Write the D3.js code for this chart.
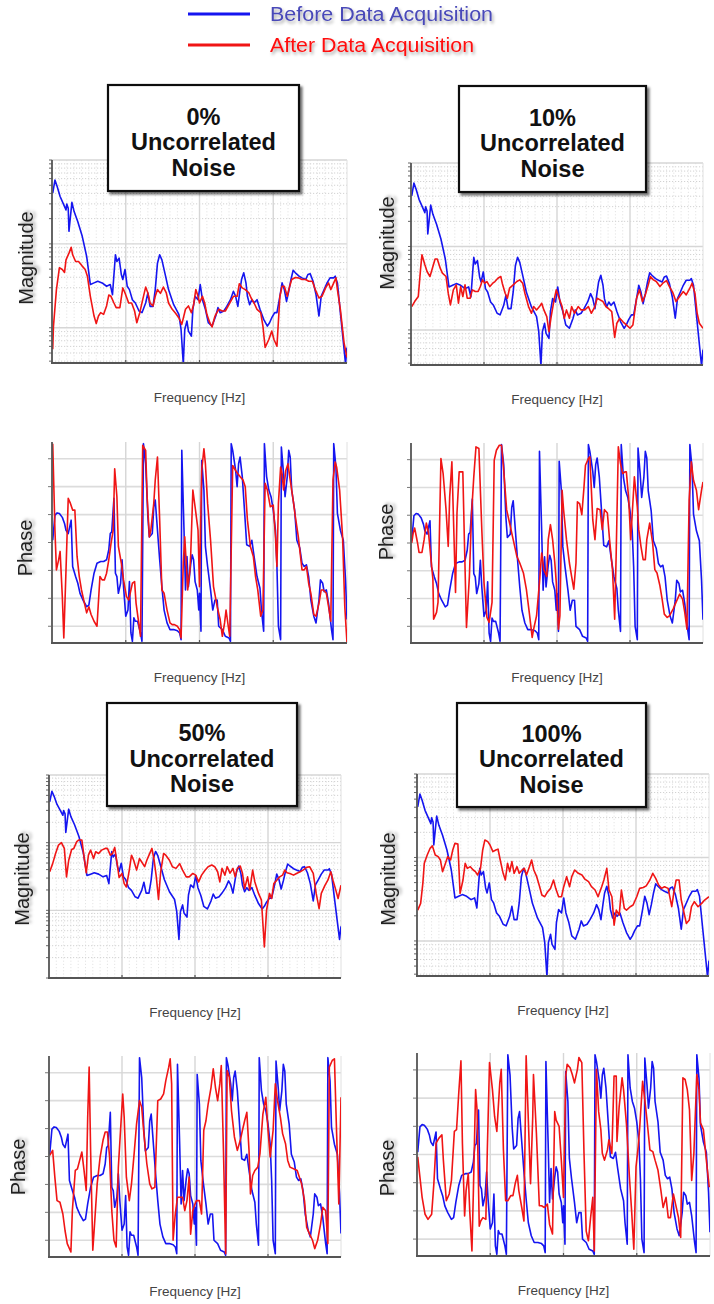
<!DOCTYPE html>
<html><head><meta charset="utf-8">
<script src="https://cdn.jsdelivr.net/npm/d3@7"></script>
<style>body{margin:0;background:#fff}svg{display:block}</style>
</head><body>
<svg id="c" width="714" height="1304"></svg>
<script>
// ---------- DATA ----------
const noiseLevels = ["0%", "10%", "50%", "100%"];
const seriesNames = ["Before Data Acquisition", "After Data Acquisition"];
const freqGrid = [100, 200, 300];            // Hz, major vertical grid
const phaseGrid = [-150, -100, -50, 0, 50, 100, 150]; // degrees

// Magnitude in dB, [frequency Hz, dB]
const beforeMag = [[1,32.1],[4,35.2],[7,33.7],[11,31.3],[16,29.3],[19,28.1],[20,29.5],[22,28.5],[23,23.0],[25,26.5],[27,29.9],[30,27.7],[35,25.3],[41,21.8],[47,17.0],[52,10.3],[57,10.7],[62,11.1],[68,10.7],[74,9.9],[79,10.3],[82,7.9],[86,17.4],[88,15.8],[91,16.6],[94,12.7],[96,11.5],[99,13.9],[102,9.9],[105,9.1],[109,6.7],[113,5.9],[118,4.0],[122,3.6],[127,5.9],[130,8.3],[133,5.1],[137,5.1],[140,9.1],[143,15.4],[146,17.4],[149,16.2],[154,12.3],[158,9.1],[165,5.5],[172,3.2],[175,-0.4],[178,-8.6],[180,-0.4],[183,1.6],[185,-0.8],[189,-2.0],[191,4.4],[194,7.5],[198,6.7],[201,10.3],[204,6.7],[208,4.4],[212,1.2],[217,0.4],[222,2.8],[225,4.8],[228,3.6],[233,4.0],[237,5.1],[242,6.7],[246,8.7],[249,7.5],[252,5.1],[255,9.1],[257,11.5],[260,13.1],[263,10.7],[265,7.5],[268,5.5],[271,6.7],[274,5.9],[278,6.7],[282,4.4],[287,2.0],[292,0.4],[295,1.2],[298,2.4],[302,3.6],[305,3.6],[309,7.5],[312,10.7],[315,9.1],[318,6.3],[321,8.7],[324,11.5],[327,13.7],[330,13.1],[335,12.3],[339,11.9],[344,11.5],[347,12.7],[350,12.9],[354,11.1],[358,7.9],[362,2.8],[365,7.5],[369,9.1],[373,10.7],[377,11.9],[382,11.9],[384,12.3],[387,10.7],[391,3.6],[396,-5.1],[398,-8.6],[400,-4.7]];

const afterMag0 = [[1,-5.1],[2,0.4],[6,9.1],[10,14.3],[14,13.9],[17,13.2],[19,16.2],[23,17.8],[26,19.2],[28,17.4],[32,15.8],[36,15.8],[41,14.7],[45,13.9],[48,12.3],[52,7.5],[57,2.8],[60,1.0],[63,2.8],[66,3.6],[70,3.2],[74,5.2],[77,7.8],[80,7.5],[84,5.9],[87,4.8],[92,4.8],[96,9.5],[99,8.3],[104,5.9],[108,5.9],[112,4.0],[115,1.2],[119,3.6],[123,6.7],[127,9.7],[130,8.3],[133,5.9],[137,5.2],[140,7.5],[143,9.1],[147,8.2],[151,9.7],[155,8.3],[158,5.9],[163,4.4],[167,3.6],[172,2.4],[176,0.8],[181,4.4],[185,5.2],[189,3.6],[192,5.5],[195,9.1],[198,7.5],[200,5.9],[204,7.5],[207,5.9],[210,3.2],[214,1.2],[217,0.2],[221,2.8],[226,4.4],[231,4.0],[235,4.0],[241,5.9],[246,7.5],[251,7.5],[254,10.5],[258,9.5],[262,9.1],[267,8.3],[270,7.1],[274,5.9],[278,4.4],[283,3.6],[286,0.4],[289,-4.7],[294,-2.8],[298,-0.8],[301,-2.8],[305,-4.4],[309,7.5],[312,9.9],[315,9.9],[319,7.5],[321,9.1],[325,11.5],[330,12.0],[334,11.9],[339,11.5],[344,11.5],[348,11.1],[353,11.1],[357,9.1],[362,7.1],[366,7.5],[371,9.5],[375,10.7],[378,9.1],[382,10.7],[385,11.9],[387,9.1],[391,4.4],[396,-3.6],[400,-7.1]];

const afterMag10 = [[1,5.6],[5,6.8],[10,8.0],[13,14.4],[15,18.0],[19,15.6],[22,14.0],[26,12.8],[30,15.2],[33,17.0],[36,17.0],[40,14.8],[43,13.6],[48,12.8],[51,8.8],[54,6.0],[58,9.6],[62,10.8],[65,6.4],[68,10.4],[71,8.0],[74,10.8],[77,7.6],[81,7.6],[84,9.6],[88,9.2],[92,9.2],[95,10.4],[98,12.0],[101,11.2],[104,11.6],[108,10.4],[112,11.2],[115,11.6],[119,12.4],[123,12.8],[125,11.2],[129,8.8],[132,7.6],[135,10.0],[140,10.8],[145,11.6],[149,12.0],[153,11.2],[156,8.8],[161,5.6],[165,4.0],[168,5.6],[172,4.8],[176,5.6],[179,6.4],[182,4.8],[186,3.2],[189,-0.4],[192,3.2],[196,7.2],[199,9.6],[203,7.6],[207,5.6],[210,2.8],[213,4.8],[217,2.8],[220,5.6],[224,4.0],[229,5.6],[233,4.8],[238,4.8],[243,5.6],[247,4.0],[252,5.6],[255,7.6],[259,7.2],[263,6.8],[267,5.6],[270,5.2],[275,4.4],[279,-1.8],[282,1.6],[286,2.8],[290,2.0],[295,1.2],[300,0.4],[304,1.2],[309,7.6],[313,9.6],[317,6.8],[321,8.4],[325,10.8],[328,12.8],[332,12.0],[336,11.6],[341,10.4],[345,11.2],[350,11.8],[354,10.4],[359,8.8],[363,6.8],[368,8.0],[373,9.2],[377,8.4],[382,10.0],[385,11.2],[389,8.8],[392,4.0],[395,1.6],[400,0.4]];

const afterMag50 = [[1,11.4],[5,13.8],[9,16.8],[13,19.3],[17,20.0],[21,18.3],[24,9.9],[27,14.8],[31,18.0],[34,18.3],[38,20.3],[41,20.8],[45,20.8],[48,15.8],[51,11.1],[54,16.3],[57,17.8],[61,15.3],[64,17.3],[68,16.8],[72,17.8],[77,18.3],[80,18.3],[84,16.3],[87,16.8],[90,18.6],[94,12.9],[96,9.7],[100,10.9],[103,7.9],[106,6.9],[110,11.9],[113,16.3],[116,14.8],[120,11.9],[124,15.3],[127,14.3],[131,12.9],[134,14.8],[137,16.3],[141,18.3],[144,14.8],[147,9.9],[150,3.2],[153,11.4],[157,16.8],[160,16.3],[165,14.8],[169,12.9],[174,12.4],[179,13.8],[183,11.9],[188,9.9],[192,9.9],[197,10.9],[201,10.4],[205,8.4],[209,10.4],[214,11.9],[218,12.9],[223,13.4],[227,12.9],[231,11.4],[234,8.4],[237,12.4],[241,10.4],[244,12.9],[248,11.0],[252,12.4],[255,9.9],[258,12.4],[262,13.1],[265,11.0],[268,6.4],[272,9.9],[275,6.0],[279,11.9],[282,8.4],[287,5.0],[291,3.0],[295,-10.8],[298,0.0],[302,5.0],[305,3.5],[308,7.9],[312,8.9],[316,9.9],[320,10.4],[323,11.9],[326,11.1],[330,10.9],[335,10.4],[339,10.9],[344,11.4],[348,11.9],[353,12.7],[357,12.9],[362,10.9],[366,5.0],[370,0.5],[373,5.0],[378,7.4],[382,8.9],[386,11.4],[389,8.9],[393,5.9],[396,3.5],[400,7.4]];

const afterMag100 = [[1,7.4],[5,9.0],[8,13.8],[10,18.6],[14,20.6],[18,22.2],[21,22.8],[25,20.6],[29,20.2],[32,19.4],[35,16.6],[39,18.6],[42,20.2],[46,19.4],[49,21.8],[52,23.4],[56,23.2],[59,11.4],[63,14.6],[66,18.6],[69,17.4],[73,17.8],[77,17.0],[80,16.6],[83,15.8],[87,17.4],[90,21.8],[93,24.2],[97,23.8],[100,23.0],[104,21.4],[108,21.8],[111,22.0],[114,19.4],[118,16.2],[121,14.6],[124,18.6],[127,16.6],[130,19.0],[133,16.2],[137,17.8],[140,16.2],[144,17.0],[147,17.4],[150,15.8],[154,17.8],[157,19.4],[160,17.0],[164,15.4],[168,13.0],[171,11.0],[175,10.6],[179,11.8],[183,12.6],[187,14.6],[190,12.6],[194,10.6],[198,10.6],[201,13.0],[205,15.4],[209,13.0],[212,15.4],[216,17.0],[221,16.2],[226,15.8],[230,14.8],[235,14.2],[239,13.0],[244,12.2],[248,10.6],[253,13.0],[256,14.6],[260,17.4],[263,12.2],[267,10.6],[270,3.8],[273,7.4],[277,6.2],[280,12.2],[284,7.8],[287,7.4],[292,8.2],[296,8.6],[301,10.6],[305,12.6],[310,12.8],[314,13.2],[319,14.6],[323,16.2],[327,15.0],[331,13.4],[335,12.6],[339,13.0],[344,12.6],[349,8.2],[352,11.8],[355,14.6],[359,14.6],[362,9.8],[365,7.4],[369,4.2],[373,5.0],[376,8.2],[380,9.4],[385,8.2],[390,9.0],[394,9.8],[400,10.6]];

// Phase in degrees, [frequency Hz, deg]
const beforePhase = [[1,4],[4,49],[7,53],[10,52],[14,45],[17,34],[19,22],[22,16],[24,28],[26,40],[28,-43],[32,-61],[35,-73],[38,-91],[42,-103],[47,-115],[50,-112],[53,-85],[57,-55],[61,-37],[66,-34],[70,-34],[74,-31],[77,-13],[79,16],[81,19],[84,79],[86,-55],[88,-61],[90,-91],[93,-73],[95,-31],[97,-79],[100,-132],[103,-121],[105,-70],[107,-162],[109,-177],[111,-135],[113,-141],[116,-141],[120,-162],[122,-177],[124,177],[127,141],[130,46],[132,10],[136,16],[138,64],[140,76],[142,40],[146,-31],[149,-79],[152,-121],[156,-144],[160,-156],[165,-156],[170,-158],[173,-162],[175,-174],[176,165],[179,22],[181,-85],[183,-25],[185,-79],[188,-40],[190,-22],[192,-31],[194,-70],[197,-85],[199,-121],[200,-91],[202,-159],[203,147],[206,94],[208,-7],[211,-43],[215,-85],[218,-121],[221,-103],[224,-103],[226,-150],[231,-156],[235,-168],[240,-171],[242,-177],[243,177],[245,165],[249,129],[251,100],[253,141],[255,153],[258,118],[261,58],[264,-4],[268,-7],[271,4],[274,-25],[278,-61],[282,-82],[284,-121],[287,-159],[288,177],[291,118],[294,94],[297,82],[300,58],[303,22],[305,-43],[307,-150],[310,-174],[311,171],[314,123],[316,82],[319,118],[321,165],[323,153],[325,94],[329,58],[332,4],[336,-10],[339,-37],[342,-43],[345,-40],[348,-61],[351,-103],[355,-132],[358,-144],[362,-103],[364,-67],[367,-73],[369,-88],[372,-85],[375,-109],[379,-156],[381,-174],[382,177],[385,135],[387,52],[391,22],[395,4],[398,-67],[400,-138]];

const afterPhase0 = [[1,177],[4,22],[6,-49],[9,-31],[11,-16],[14,-97],[16,-171],[19,-49],[22,79],[25,70],[28,58],[31,58],[34,-25],[37,-61],[40,-85],[44,-109],[47,-126],[50,-115],[53,-129],[57,-141],[61,-150],[65,-61],[68,-67],[71,-67],[74,-55],[77,-31],[80,-2],[83,22],[85,132],[88,82],[90,-7],[94,-37],[97,-67],[101,-97],[104,-103],[106,-91],[109,-73],[112,-70],[114,-109],[117,-138],[120,-168],[123,174],[127,165],[129,82],[132,10],[134,22],[138,70],[140,112],[143,153],[146,40],[149,-85],[152,-91],[156,-121],[160,-144],[163,-147],[166,-147],[170,-150],[173,-156],[175,-171],[178,-37],[180,10],[182,-37],[184,-85],[187,-49],[188,-25],[191,94],[194,64],[198,22],[200,-79],[203,129],[206,168],[208,141],[211,70],[215,4],[219,-79],[224,-115],[228,-138],[231,-168],[234,-144],[236,-121],[239,-150],[241,-168],[245,138],[249,129],[252,123],[255,118],[259,112],[262,100],[265,40],[269,-7],[273,-25],[276,-61],[279,-85],[283,-132],[286,-121],[289,106],[292,94],[296,64],[300,67],[303,10],[305,-43],[307,70],[310,135],[312,123],[314,94],[317,129],[320,141],[323,112],[327,76],[330,46],[334,10],[339,-49],[342,-49],[345,-43],[348,-73],[351,-91],[355,-129],[358,-132],[362,-109],[365,-85],[368,-85],[372,-91],[375,-115],[378,-141],[381,112],[384,144],[386,135],[390,94],[394,10],[397,-115],[400,-180]];

const afterPhase10 = [[1,0],[3,18],[5,27],[9,0],[11,-17],[15,-17],[18,6],[21,36],[24,18],[27,-24],[30,-65],[31,-137],[35,-125],[37,-107],[41,152],[44,125],[48,60],[51,-6],[53,83],[56,146],[59,6],[61,-89],[63,54],[66,128],[71,128],[73,12],[76,-152],[80,-60],[83,54],[86,119],[89,173],[93,170],[97,24],[100,-71],[104,-134],[107,-143],[111,-107],[114,149],[117,167],[121,176],[124,176],[127,131],[131,60],[135,36],[140,6],[145,-24],[149,-36],[154,-54],[158,-83],[162,-125],[166,-170],[168,-155],[172,-131],[176,-71],[179,-18],[182,-48],[186,-60],[188,6],[191,33],[194,6],[197,-36],[199,-71],[202,-155],[204,-131],[207,95],[209,60],[213,6],[217,-36],[220,-60],[223,-83],[226,-36],[228,74],[231,71],[234,51],[237,101],[239,140],[243,152],[245,155],[249,42],[252,6],[255,62],[259,60],[262,24],[265,60],[269,54],[272,6],[276,-48],[279,-137],[281,-24],[284,173],[287,143],[290,125],[293,128],[295,128],[298,83],[301,6],[303,51],[306,119],[310,65],[312,24],[315,-6],[318,-30],[321,-30],[323,6],[327,36],[331,0],[334,-48],[337,-54],[341,-77],[344,-101],[347,-128],[351,-134],[354,-131],[359,-119],[363,-107],[368,-92],[372,-101],[375,-125],[378,-155],[381,77],[384,146],[387,113],[391,95],[394,60],[398,95],[400,110]];

const afterPhase50 = [[1,2],[5,11],[8,-37],[11,-79],[15,-82],[19,-103],[22,-133],[25,-156],[30,-171],[32,-97],[36,-25],[39,-22],[42,-7],[45,8],[48,-25],[51,-61],[53,70],[55,160],[57,11],[60,-168],[63,-109],[66,-49],[70,-1],[74,29],[77,44],[80,44],[83,-1],[86,-97],[89,-150],[92,-162],[95,-19],[98,47],[101,112],[103,70],[106,-37],[110,-79],[113,-49],[117,11],[120,59],[124,100],[127,88],[130,41],[134,-13],[138,-49],[141,-58],[145,-55],[149,100],[153,103],[157,112],[160,136],[164,160],[166,175],[168,130],[170,-150],[173,-103],[176,-73],[180,-73],[183,-73],[186,-97],[189,-79],[192,-37],[194,-139],[197,-97],[200,-85],[202,-79],[206,-79],[209,-103],[212,47],[215,64],[218,94],[222,124],[225,157],[228,124],[231,100],[234,130],[236,163],[239,11],[242,-174],[244,154],[247,142],[250,82],[254,35],[258,11],[262,29],[265,47],[268,64],[271,79],[274,11],[276,-67],[279,-34],[282,-25],[286,-19],[289,5],[293,76],[297,106],[300,47],[303,-1],[307,47],[310,130],[313,100],[317,70],[320,41],[324,23],[327,-7],[330,-19],[335,-22],[340,-25],[343,-37],[346,-49],[350,-79],[353,-127],[357,-139],[361,-150],[364,-165],[368,-150],[372,-121],[375,-91],[379,-97],[382,-156],[384,160],[388,172],[391,175],[394,41],[397,-85],[400,106]];

const afterPhase100 = [[1,-4],[4,-40],[7,-76],[11,-106],[15,-115],[20,-106],[23,-52],[26,20],[30,29],[34,35],[36,-10],[40,-82],[44,-70],[47,-46],[51,41],[54,44],[57,109],[60,166],[62,20],[65,-109],[67,-64],[70,-34],[72,-100],[75,-171],[77,-64],[80,115],[82,79],[85,-127],[87,-118],[90,-112],[94,-115],[96,8],[99,163],[103,115],[106,67],[109,41],[113,127],[115,151],[118,8],[121,-82],[124,-82],[128,-73],[131,-73],[134,-52],[137,-37],[139,-64],[143,-94],[146,-118],[149,175],[152,61],[155,-52],[158,67],[159,142],[163,38],[167,-91],[170,-91],[174,-94],[178,-88],[181,-124],[185,-141],[188,76],[190,61],[194,50],[197,-10],[200,-76],[203,139],[205,160],[209,154],[212,142],[215,127],[219,151],[221,172],[225,163],[228,2],[231,-136],[234,-153],[237,-112],[240,-76],[242,-171],[245,151],[248,76],[251,44],[253,2],[256,-10],[260,8],[262,26],[266,2],[269,139],[272,139],[273,23],[276,85],[280,136],[282,115],[286,53],[290,-40],[293,-100],[296,-168],[299,-22],[302,14],[304,47],[308,130],[311,97],[314,61],[318,8],[322,5],[325,-10],[329,-28],[333,-64],[336,-94],[340,-76],[343,-112],[346,-112],[350,-70],[353,-88],[357,-112],[360,-147],[363,136],[366,133],[369,115],[372,79],[375,-46],[378,2],[382,142],[385,115],[387,56],[391,44],[395,-10],[399,-58]];

const afterMags = [afterMag0, afterMag10, afterMag50, afterMag100];
const afterPhases = [afterPhase0, afterPhase10, afterPhase50, afterPhase100];

// ---------- LAYOUT ----------
const BLUE = "#1515f0", RED = "#f01515";
const FONT = "'Liberation Sans', Arial, Helvetica, sans-serif";
const svg = d3.select("#c");
const defs = svg.append("defs");
const f1 = defs.append("filter").attr("id","tshadow").attr("x","-20%").attr("y","-40%").attr("width","140%").attr("height","200%");
f1.append("feDropShadow").attr("dx",1.5).attr("dy",2.5).attr("stdDeviation",1.6).attr("flood-color","#000").attr("flood-opacity",0.35);
const f2 = defs.append("filter").attr("id","bshadow").attr("x","-10%").attr("y","-10%").attr("width","130%").attr("height","130%");
f2.append("feDropShadow").attr("dx",2.5).attr("dy",2.5).attr("stdDeviation",1.2).attr("flood-color","#000").attr("flood-opacity",0.55);

const panels = [
  {k:0, mag:{x:[52,347], y:[160,363], dB:[-8.4,40], lab:[26,258]},  ph:{x:[52,347], y:[442,643], lab:[25,548]},  box:[108,85,191,106]},
  {k:1, mag:{x:[411,703],y:[163,365], dB:[-8.4,40], lab:[387,243]}, ph:{x:[411,703],y:[443,643], lab:[386,532]}, box:[459,86,187,106]},
  {k:2, mag:{x:[49,341], y:[775,978], dB:[-20,40],  lab:[22,879]},  ph:{x:[49,341], y:[1056,1257],lab:[18,1167]}, box:[107,703,190,103]},
  {k:3, mag:{x:[417,709],y:[774,976], dB:[-8.4,40], lab:[388,879]}, ph:{x:[417,710],y:[1053,1256],lab:[387,1168]},box:[457,703,189,104]}
];

let clipId = 0;
function frame(g, x, y, xr, yr) {
  g.selectAll(null).data(freqGrid).join("line")
    .attr("x1", d=>x(d)).attr("x2", d=>x(d)).attr("y1", yr[0]).attr("y2", yr[1])
    .attr("stroke","#d6d6d6").attr("stroke-width",1.4);
}
function axesLines(g, xr, yr, x) {
  g.append("line").attr("x1",xr[0]).attr("x2",xr[0]).attr("y1",yr[0]).attr("y2",yr[1]+1).attr("stroke","#555").attr("stroke-width",1.8);
  g.append("line").attr("x1",xr[0]-1).attr("x2",xr[1]).attr("y1",yr[1]).attr("y2",yr[1]).attr("stroke","#555").attr("stroke-width",1.8);
  g.selectAll(null).data(freqGrid).join("line")
    .attr("x1", d=>x(d)).attr("x2", d=>x(d)).attr("y1", yr[1]).attr("y2", yr[1]-3)
    .attr("stroke","#555").attr("stroke-width",1.2);
}
function clip(xr, yr) {
  const id = "clip" + (clipId++);
  defs.append("clipPath").attr("id", id).append("rect")
    .attr("x", xr[0]).attr("y", yr[0]-1).attr("width", xr[1]-xr[0]).attr("height", yr[1]-yr[0]+1);
  return "url(#" + id + ")";
}
function drawSeries(g, data, x, y, color, cp) {
  const line = d3.line().x(d=>x(d[0])).y(d=>y(d[1]));
  g.append("path").datum(data).attr("d", line).attr("fill","none")
    .attr("stroke", color).attr("stroke-width",1.6).attr("stroke-linejoin","round")
    .attr("clip-path", cp);
}
function freqLabel(xr, yb) {
  svg.append("text").attr("x",(xr[0]+xr[1])/2).attr("y",yb+39)
    .attr("text-anchor","middle").attr("font-family",FONT).attr("font-size",13.5)
    .attr("fill","#444").text("Frequency [Hz]");
}
function yLabel(pos, txt) {
  svg.append("text").attr("transform",`translate(${pos[0]},${pos[1]}) rotate(-90)`)
    .attr("text-anchor","middle").attr("dy","0.35em").attr("font-family",FONT).attr("font-size",20)
    .attr("fill","#222").attr("filter","url(#tshadow)").text(txt);
}

panels.forEach(p => {
  // ---- magnitude ----
  {
    const m = p.mag;
    const x = d3.scaleLinear().domain([0,400]).range(m.x);
    const y = d3.scaleLinear().domain(m.dB).range([m.y[1], m.y[0]]);
    const g = svg.append("g");
    const vminor = d3.range(10, 400, 10).filter(v => v % 100 !== 0);
    g.selectAll(null).data(vminor).join("line")
      .attr("x1",d=>x(d)).attr("x2",d=>x(d)).attr("y1",m.y[0]).attr("y2",m.y[1])
      .attr("stroke","#e4e4e4").attr("stroke-width",1).attr("stroke-dasharray","1.2,2");
    const minors = [], majors = [];
    for (let dec = -40; dec <= 40; dec += 20) {
      majors.push(dec);
      for (let k = 2; k <= 9; k++) minors.push(dec + 20*Math.log10(k));
    }
    const inR = v => v > m.dB[0] && v < m.dB[1];
    g.selectAll(null).data(minors.filter(inR)).join("line")
      .attr("x1",m.x[0]).attr("x2",m.x[1]).attr("y1",d=>y(d)).attr("y2",d=>y(d))
      .attr("stroke","#d2d2d2").attr("stroke-width",1).attr("stroke-dasharray","1.2,1.8");
    g.selectAll(null).data(majors.filter(v => v >= m.dB[0] && v <= m.dB[1])).join("line")
      .attr("x1",m.x[0]).attr("x2",m.x[1]).attr("y1",d=>y(d)).attr("y2",d=>y(d))
      .attr("stroke","#d6d6d6").attr("stroke-width",1.4);
    frame(g, x, y, m.x, m.y);
    g.append("line").attr("x1",m.x[1]).attr("x2",m.x[1]).attr("y1",m.y[0]).attr("y2",m.y[1]).attr("stroke","#e0e0e0");
    g.selectAll(null).data(minors.concat(majors).filter(v => v >= m.dB[0] && v <= m.dB[1])).join("line")
      .attr("x1",m.x[0]-3).attr("x2",m.x[0]).attr("y1",d=>y(d)).attr("y2",d=>y(d))
      .attr("stroke","#666").attr("stroke-width",1);
    const cp = clip(m.x, m.y);
    drawSeries(g, beforeMag, x, y, BLUE, cp);
    drawSeries(g, afterMags[p.k], x, y, RED, cp);
    axesLines(g, m.x, m.y, x);
    freqLabel(m.x, m.y[1]);
    yLabel(m.lab, "Magnitude");
  }
  // ---- phase ----
  {
    const m = p.ph;
    const x = d3.scaleLinear().domain([0,400]).range(m.x);
    const y = d3.scaleLinear().domain([-180,180]).range([m.y[1], m.y[0]]);
    const g = svg.append("g");
    g.selectAll(null).data(phaseGrid).join("line")
      .attr("x1",m.x[0]).attr("x2",m.x[1]).attr("y1",d=>y(d)).attr("y2",d=>y(d))
      .attr("stroke","#dcdcdc").attr("stroke-width",1.6);
    frame(g, x, y, m.x, m.y);
    g.append("line").attr("x1",m.x[1]).attr("x2",m.x[1]).attr("y1",m.y[0]).attr("y2",m.y[1]).attr("stroke","#e0e0e0");
    g.selectAll(null).data(phaseGrid).join("line")
      .attr("x1",m.x[0]-4).attr("x2",m.x[0]-1).attr("y1",d=>y(d)).attr("y2",d=>y(d))
      .attr("stroke","#777").attr("stroke-width",1);
    const cp = clip(m.x, m.y);
    drawSeries(g, beforePhase, x, y, BLUE, cp);
    drawSeries(g, afterPhases[p.k], x, y, RED, cp);
    axesLines(g, m.x, m.y, x);
    freqLabel(m.x, m.y[1]);
    yLabel(m.lab, "Phase");
  }
  // ---- title box ----
  const [bx, by, bw, bh] = p.box;
  svg.append("rect").attr("x",bx).attr("y",by).attr("width",bw).attr("height",bh)
    .attr("fill","#fff").attr("stroke","#111").attr("stroke-width",2.2).attr("filter","url(#bshadow)");
  const lines = [noiseLevels[p.k], "Uncorrelated", "Noise"];
  const cy = by + bh/2 + 4;
  svg.append("g").selectAll("text").data(lines).join("text")
    .attr("x", bx + bw/2).attr("y", (d,i) => cy + (i-1)*25.5).attr("dy","0.35em")
    .attr("text-anchor","middle").attr("font-family",FONT).attr("font-weight","bold")
    .attr("font-size",23.5).attr("fill","#111").text(d=>d);
});

// ---- legend ----
const legend = svg.append("g");
const legY = [14, 45];
const legCol = [BLUE, RED];
const legTxt = ["#4848b8", "#ff1010"];
const legLen = [223, 204];
seriesNames.forEach((n,i) => {
  legend.append("line").attr("x1",188).attr("x2",250).attr("y1",legY[i]).attr("y2",legY[i])
    .attr("stroke",legCol[i]).attr("stroke-width",3);
  legend.append("text").attr("x",270).attr("y",legY[i]).attr("dy","0.35em")
    .attr("font-family",FONT).attr("font-size",19.5).attr("fill",legTxt[i])
    .attr("textLength", legLen[i]).attr("lengthAdjust","spacingAndGlyphs")
    .attr("filter","url(#tshadow)").text(n);
});
</script>
</body></html>
